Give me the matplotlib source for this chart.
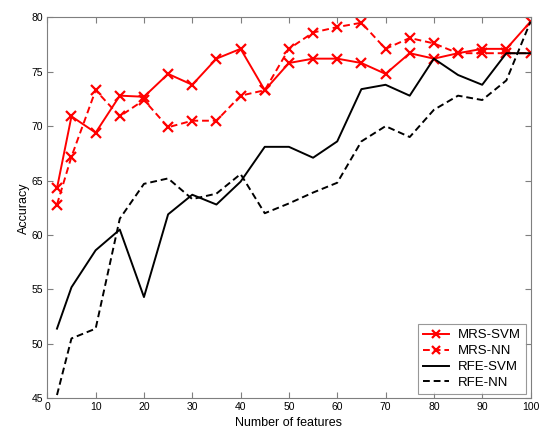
import matplotlib
matplotlib.use("Agg")
import matplotlib.pyplot as plt

plt.rcParams['font.family'] = ['Liberation Sans', 'DejaVu Sans']

n_features = [2, 5, 10, 15, 20, 25, 30, 35, 40, 45, 50, 55, 60, 65, 70, 75, 80, 85, 90, 95, 100]

mrs_svm = [64.3, 70.9, 69.4, 72.8, 72.7, 74.8, 73.8, 76.2, 77.1, 73.3, 75.8,
           76.2, 76.2, 75.8, 74.8, 76.7, 76.2, 76.7, 77.1, 77.1, 79.6]
mrs_nn = [62.8, 67.2, 73.3, 70.9, 72.4, 69.9, 70.5, 70.5, 72.8, 73.3, 77.1,
          78.6, 79.1, 79.5, 77.1, 78.1, 77.6, 76.7, 76.7, 76.7, 76.7]
rfe_svm = [51.4, 55.2, 58.6, 60.5, 54.3, 61.9, 63.7, 62.8, 64.9, 68.1, 68.1,
           67.1, 68.6, 73.4, 73.8, 72.8, 76.2, 74.7, 73.8, 76.7, 76.7]
rfe_nn = [45.3, 50.5, 51.4, 61.5, 64.7, 65.2, 63.3, 63.8, 65.6, 62.0, 62.9,
          63.9, 64.8, 68.6, 70.0, 69.0, 71.5, 72.8, 72.4, 74.2, 79.6]

x_ticks = [0, 10, 20, 30, 40, 50, 60, 70, 80, 90, 100]
y_ticks = [45, 50, 55, 60, 65, 70, 75, 80]

fig = plt.figure(figsize=(5.42, 4.30), dpi=100)
ax = fig.add_axes([0.0873, 0.0737, 0.8915, 0.8861])

ax.plot(n_features, mrs_svm, color='#ff0000', linestyle='-', linewidth=1.4,
        marker='x', markersize=7.5, markeredgewidth=1.6, label='MRS-SVM')
ax.plot(n_features, mrs_nn, color='#ff0000', linestyle=(0, (3.5, 2)), linewidth=1.4,
        marker='x', markersize=7.5, markeredgewidth=1.6, label='MRS-NN')
ax.plot(n_features, rfe_svm, color='black', linestyle='-', linewidth=1.4, label='RFE-SVM')
ax.plot(n_features, rfe_nn, color='black', linestyle=(0, (3.5, 2)), linewidth=1.4, label='RFE-NN')

ax.set_xlim(0, 100)
ax.set_ylim(45, 80)
ax.set_xticks(x_ticks)
ax.set_yticks(y_ticks)
ax.tick_params(direction='in', length=4, width=0.8, color='#7f7f7f',
               top=True, right=True, labelsize=7.5, pad=3, labelcolor='#000000')
for sp in ax.spines.values():
    sp.set_color('#7f7f7f')
    sp.set_linewidth(0.8)

ax.set_xlabel('Number of features', fontsize=9, labelpad=3)
ax.set_ylabel('Accuracy', fontsize=9, labelpad=1)

leg = ax.legend(loc='lower right', fontsize=9.5, frameon=True, fancybox=False,
                edgecolor='#7f7f7f', handlelength=2.0, borderpad=0.35,
                labelspacing=0.28, handletextpad=0.7, borderaxespad=0.35,
                markerscale=0.7)
leg.get_frame().set_linewidth(0.8)

fig.savefig('out.png', dpi=100)
